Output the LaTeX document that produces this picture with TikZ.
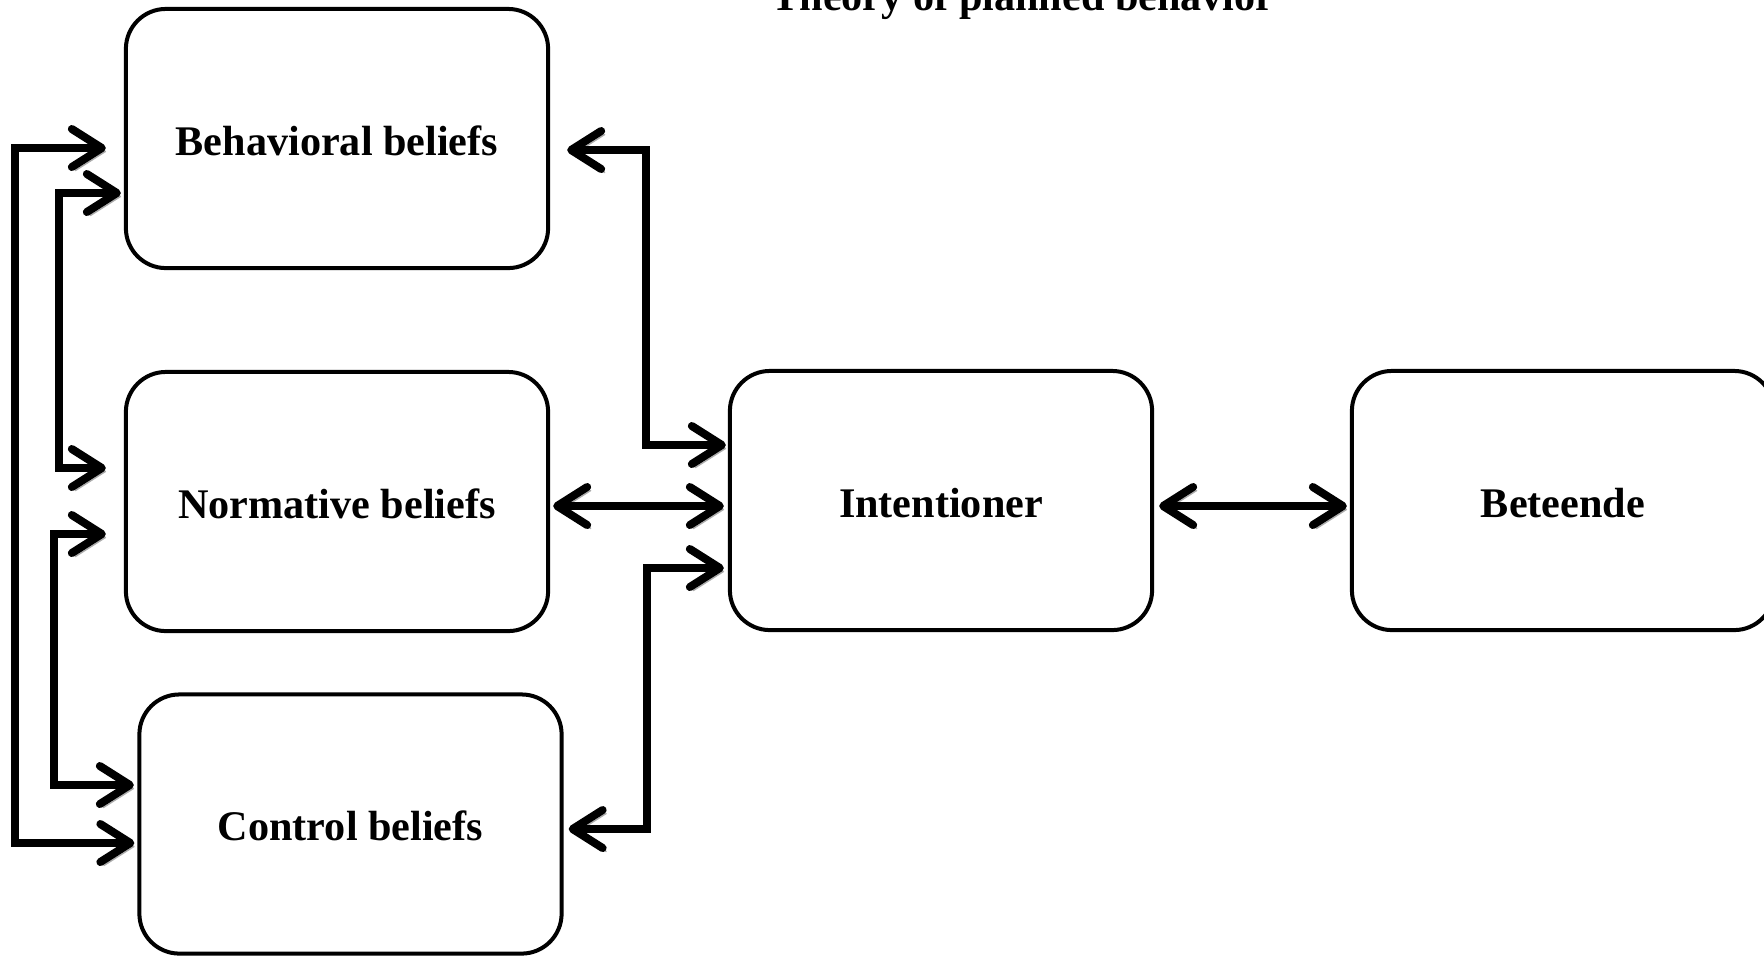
\documentclass[tikz,border=0pt]{standalone}
\usepackage{fontspec}
\setmainfont{Liberation Serif}
\usetikzlibrary{arrows.meta, calc}

\begin{document}
\begin{tikzpicture}[x=0.01cm, y=-0.01cm]
    % Define styles
    \tikzstyle{belief} = [rectangle, draw, line width=0.04cm, rounded corners=0.4cm, minimum width=4.22cm, minimum height=2.59cm, text height=9.4pt, text depth=0pt, font=\fontsize{12}{14}\selectfont\bfseries]
    \tikzstyle{link} = [line width=0.08cm, {Straight Barb[length=0.3cm, width=0.38cm, line cap=round, line join=round]}-{Straight Barb[length=0.3cm, width=0.38cm, line cap=round, line join=round]}, preaction={draw=gray!65, transform canvas={shift={(0.035cm,-0.035cm)}}}]

    \useasboundingbox (0,0) rectangle (1764,956);

    % Title
    \node[anchor=base, font=\fontsize{12}{14}\selectfont\bfseries] (title) at (1023,10) {Theory of planned behavior};

    % Beliefs
    \node[belief] (behav) at (337,138.5) {Behavioral beliefs};
    \node[belief] (norm) at (337,501.5) {Normative beliefs};
    \node[belief] (ctrl) at (350.5,824) {Control beliefs};

    % Intention and behaviour
    \node[belief] (intent) at (941,500.5) {Intentioner};
    \node[belief] (beteende) at (1563,500.5) {Beteende};

    % Left side links
    \draw[link, shorten <=0.18cm, shorten >=0.03cm] ($(behav.west)+(0,9.5)$) -| (15,843) -- ($(ctrl.west)+(0,19)$);
    \draw[link, shorten <=0.03cm, shorten >=0.18cm] ($(behav.west)+(0,54.5)$) -| (59,468) -- ($(norm.west)+(0,-33.5)$);
    \draw[link, shorten <=0.18cm, shorten >=0.035cm] ($(norm.west)+(0,32.5)$) -| (54,785) -- ($(ctrl.west)+(0,-39)$);

    % Right side links
    \draw[link, shorten <=0.17cm, shorten >=0.02cm] ($(behav.east)+(0,11.5)$) -| (646,445) -- ($(intent.west)+(0,-55.5)$);
    \draw[link, shorten <=0.03cm, shorten >=0.04cm] ($(norm.east)+(0,4.5)$) -- ($(intent.west)+(0,5.5)$);
    \draw[link, shorten <=0.05cm, shorten >=0.04cm] ($(ctrl.east)+(0,5)$) -| (647,568) -- ($(intent.west)+(0,67.5)$);
    \draw[link, shorten <=0.05cm, shorten >=0.03cm] ($(intent.east)+(0,5.5)$) -- ($(beteende.west)+(0,5.5)$);
\end{tikzpicture}
\end{document}
